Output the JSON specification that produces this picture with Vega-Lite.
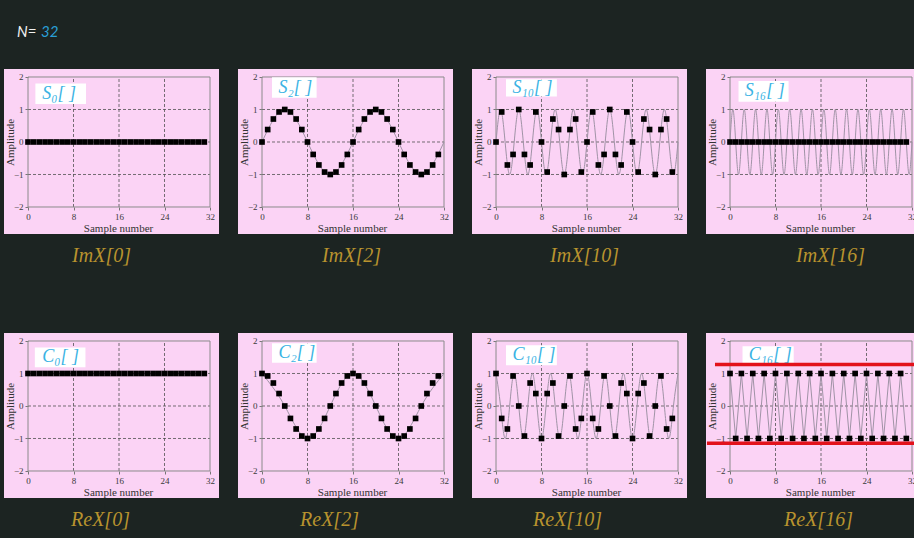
{
"$schema": "https://vega.github.io/schema/vega-lite/v6.json",
"background": "#1c2422",
"padding": {"left": 4, "top": 25, "right": 0, "bottom": 16},
"config": {
 "view": {"fill": "#fbd3f5", "stroke": null},
 "axis": {"domain": false, "grid": false, "ticks": true, "tickColor": "#777777", "tickSize": 3, "tickWidth": 1, "labelFont": "Liberation Serif", "labelFontSize": 9, "labelColor": "#3a3a3a", "labelPadding": 2, "labelOverlap": false, "labelFlush": false, "titleFont": "Liberation Serif", "titleFontSize": 11, "titleFontWeight": "normal", "titleColor": "#333333", "titlePadding": 1},
 "title": {"orient": "bottom", "font": "Liberation Serif", "fontStyle": "italic", "fontSize": 20, "fontWeight": "normal", "color": "#b8932e", "offset": 12, "frame": "group", "anchor": "middle"}
},
"datasets": {
 "vg": [{"x": 8}, {"x": 16}, {"x": 24}],
 "hg": [{"y": -1}, {"y": 0}, {"y": 1}],
 "samples": [
{"p":"S0","x":0,"y":0},{"p":"S0","x":1,"y":0},{"p":"S0","x":2,"y":0},{"p":"S0","x":3,"y":0},{"p":"S0","x":4,"y":0},{"p":"S0","x":5,"y":0},{"p":"S0","x":6,"y":0},{"p":"S0","x":7,"y":0},{"p":"S0","x":8,"y":0},{"p":"S0","x":9,"y":0},{"p":"S0","x":10,"y":0},{"p":"S0","x":11,"y":0},{"p":"S0","x":12,"y":0},{"p":"S0","x":13,"y":0},{"p":"S0","x":14,"y":0},{"p":"S0","x":15,"y":0},{"p":"S0","x":16,"y":0},{"p":"S0","x":17,"y":0},{"p":"S0","x":18,"y":0},{"p":"S0","x":19,"y":0},{"p":"S0","x":20,"y":0},{"p":"S0","x":21,"y":0},{"p":"S0","x":22,"y":0},{"p":"S0","x":23,"y":0},{"p":"S0","x":24,"y":0},{"p":"S0","x":25,"y":0},{"p":"S0","x":26,"y":0},{"p":"S0","x":27,"y":0},{"p":"S0","x":28,"y":0},{"p":"S0","x":29,"y":0},{"p":"S0","x":30,"y":0},{"p":"S0","x":31,"y":0},
{"p":"S2","x":0,"y":0},{"p":"S2","x":1,"y":0.383},{"p":"S2","x":2,"y":0.707},{"p":"S2","x":3,"y":0.924},{"p":"S2","x":4,"y":1},{"p":"S2","x":5,"y":0.924},{"p":"S2","x":6,"y":0.707},{"p":"S2","x":7,"y":0.383},{"p":"S2","x":8,"y":0},{"p":"S2","x":9,"y":-0.383},{"p":"S2","x":10,"y":-0.707},{"p":"S2","x":11,"y":-0.924},{"p":"S2","x":12,"y":-1},{"p":"S2","x":13,"y":-0.924},{"p":"S2","x":14,"y":-0.707},{"p":"S2","x":15,"y":-0.383},{"p":"S2","x":16,"y":0},{"p":"S2","x":17,"y":0.383},{"p":"S2","x":18,"y":0.707},{"p":"S2","x":19,"y":0.924},{"p":"S2","x":20,"y":1},{"p":"S2","x":21,"y":0.924},{"p":"S2","x":22,"y":0.707},{"p":"S2","x":23,"y":0.383},{"p":"S2","x":24,"y":0},{"p":"S2","x":25,"y":-0.383},{"p":"S2","x":26,"y":-0.707},{"p":"S2","x":27,"y":-0.924},{"p":"S2","x":28,"y":-1},{"p":"S2","x":29,"y":-0.924},{"p":"S2","x":30,"y":-0.707},{"p":"S2","x":31,"y":-0.383},
{"p":"S10","x":0,"y":0},{"p":"S10","x":1,"y":0.924},{"p":"S10","x":2,"y":-0.707},{"p":"S10","x":3,"y":-0.383},{"p":"S10","x":4,"y":1},{"p":"S10","x":5,"y":-0.383},{"p":"S10","x":6,"y":-0.707},{"p":"S10","x":7,"y":0.924},{"p":"S10","x":8,"y":0},{"p":"S10","x":9,"y":-0.924},{"p":"S10","x":10,"y":0.707},{"p":"S10","x":11,"y":0.383},{"p":"S10","x":12,"y":-1},{"p":"S10","x":13,"y":0.383},{"p":"S10","x":14,"y":0.707},{"p":"S10","x":15,"y":-0.924},{"p":"S10","x":16,"y":0},{"p":"S10","x":17,"y":0.924},{"p":"S10","x":18,"y":-0.707},{"p":"S10","x":19,"y":-0.383},{"p":"S10","x":20,"y":1},{"p":"S10","x":21,"y":-0.383},{"p":"S10","x":22,"y":-0.707},{"p":"S10","x":23,"y":0.924},{"p":"S10","x":24,"y":0},{"p":"S10","x":25,"y":-0.924},{"p":"S10","x":26,"y":0.707},{"p":"S10","x":27,"y":0.383},{"p":"S10","x":28,"y":-1},{"p":"S10","x":29,"y":0.383},{"p":"S10","x":30,"y":0.707},{"p":"S10","x":31,"y":-0.924},
{"p":"S16","x":0,"y":0},{"p":"S16","x":1,"y":0},{"p":"S16","x":2,"y":0},{"p":"S16","x":3,"y":0},{"p":"S16","x":4,"y":0},{"p":"S16","x":5,"y":0},{"p":"S16","x":6,"y":0},{"p":"S16","x":7,"y":0},{"p":"S16","x":8,"y":0},{"p":"S16","x":9,"y":0},{"p":"S16","x":10,"y":0},{"p":"S16","x":11,"y":0},{"p":"S16","x":12,"y":0},{"p":"S16","x":13,"y":0},{"p":"S16","x":14,"y":0},{"p":"S16","x":15,"y":0},{"p":"S16","x":16,"y":0},{"p":"S16","x":17,"y":0},{"p":"S16","x":18,"y":0},{"p":"S16","x":19,"y":0},{"p":"S16","x":20,"y":0},{"p":"S16","x":21,"y":0},{"p":"S16","x":22,"y":0},{"p":"S16","x":23,"y":0},{"p":"S16","x":24,"y":0},{"p":"S16","x":25,"y":0},{"p":"S16","x":26,"y":0},{"p":"S16","x":27,"y":0},{"p":"S16","x":28,"y":0},{"p":"S16","x":29,"y":0},{"p":"S16","x":30,"y":0},{"p":"S16","x":31,"y":0},
{"p":"C0","x":0,"y":1},{"p":"C0","x":1,"y":1},{"p":"C0","x":2,"y":1},{"p":"C0","x":3,"y":1},{"p":"C0","x":4,"y":1},{"p":"C0","x":5,"y":1},{"p":"C0","x":6,"y":1},{"p":"C0","x":7,"y":1},{"p":"C0","x":8,"y":1},{"p":"C0","x":9,"y":1},{"p":"C0","x":10,"y":1},{"p":"C0","x":11,"y":1},{"p":"C0","x":12,"y":1},{"p":"C0","x":13,"y":1},{"p":"C0","x":14,"y":1},{"p":"C0","x":15,"y":1},{"p":"C0","x":16,"y":1},{"p":"C0","x":17,"y":1},{"p":"C0","x":18,"y":1},{"p":"C0","x":19,"y":1},{"p":"C0","x":20,"y":1},{"p":"C0","x":21,"y":1},{"p":"C0","x":22,"y":1},{"p":"C0","x":23,"y":1},{"p":"C0","x":24,"y":1},{"p":"C0","x":25,"y":1},{"p":"C0","x":26,"y":1},{"p":"C0","x":27,"y":1},{"p":"C0","x":28,"y":1},{"p":"C0","x":29,"y":1},{"p":"C0","x":30,"y":1},{"p":"C0","x":31,"y":1},
{"p":"C2","x":0,"y":1},{"p":"C2","x":1,"y":0.924},{"p":"C2","x":2,"y":0.707},{"p":"C2","x":3,"y":0.383},{"p":"C2","x":4,"y":0},{"p":"C2","x":5,"y":-0.383},{"p":"C2","x":6,"y":-0.707},{"p":"C2","x":7,"y":-0.924},{"p":"C2","x":8,"y":-1},{"p":"C2","x":9,"y":-0.924},{"p":"C2","x":10,"y":-0.707},{"p":"C2","x":11,"y":-0.383},{"p":"C2","x":12,"y":0},{"p":"C2","x":13,"y":0.383},{"p":"C2","x":14,"y":0.707},{"p":"C2","x":15,"y":0.924},{"p":"C2","x":16,"y":1},{"p":"C2","x":17,"y":0.924},{"p":"C2","x":18,"y":0.707},{"p":"C2","x":19,"y":0.383},{"p":"C2","x":20,"y":0},{"p":"C2","x":21,"y":-0.383},{"p":"C2","x":22,"y":-0.707},{"p":"C2","x":23,"y":-0.924},{"p":"C2","x":24,"y":-1},{"p":"C2","x":25,"y":-0.924},{"p":"C2","x":26,"y":-0.707},{"p":"C2","x":27,"y":-0.383},{"p":"C2","x":28,"y":0},{"p":"C2","x":29,"y":0.383},{"p":"C2","x":30,"y":0.707},{"p":"C2","x":31,"y":0.924},
{"p":"C10","x":0,"y":1},{"p":"C10","x":1,"y":-0.383},{"p":"C10","x":2,"y":-0.707},{"p":"C10","x":3,"y":0.924},{"p":"C10","x":4,"y":0},{"p":"C10","x":5,"y":-0.924},{"p":"C10","x":6,"y":0.707},{"p":"C10","x":7,"y":0.383},{"p":"C10","x":8,"y":-1},{"p":"C10","x":9,"y":0.383},{"p":"C10","x":10,"y":0.707},{"p":"C10","x":11,"y":-0.924},{"p":"C10","x":12,"y":0},{"p":"C10","x":13,"y":0.924},{"p":"C10","x":14,"y":-0.707},{"p":"C10","x":15,"y":-0.383},{"p":"C10","x":16,"y":1},{"p":"C10","x":17,"y":-0.383},{"p":"C10","x":18,"y":-0.707},{"p":"C10","x":19,"y":0.924},{"p":"C10","x":20,"y":0},{"p":"C10","x":21,"y":-0.924},{"p":"C10","x":22,"y":0.707},{"p":"C10","x":23,"y":0.383},{"p":"C10","x":24,"y":-1},{"p":"C10","x":25,"y":0.383},{"p":"C10","x":26,"y":0.707},{"p":"C10","x":27,"y":-0.924},{"p":"C10","x":28,"y":0},{"p":"C10","x":29,"y":0.924},{"p":"C10","x":30,"y":-0.707},{"p":"C10","x":31,"y":-0.383},
{"p":"C16","x":0,"y":1},{"p":"C16","x":1,"y":-1},{"p":"C16","x":2,"y":1},{"p":"C16","x":3,"y":-1},{"p":"C16","x":4,"y":1},{"p":"C16","x":5,"y":-1},{"p":"C16","x":6,"y":1},{"p":"C16","x":7,"y":-1},{"p":"C16","x":8,"y":1},{"p":"C16","x":9,"y":-1},{"p":"C16","x":10,"y":1},{"p":"C16","x":11,"y":-1},{"p":"C16","x":12,"y":1},{"p":"C16","x":13,"y":-1},{"p":"C16","x":14,"y":1},{"p":"C16","x":15,"y":-1},{"p":"C16","x":16,"y":1},{"p":"C16","x":17,"y":-1},{"p":"C16","x":18,"y":1},{"p":"C16","x":19,"y":-1},{"p":"C16","x":20,"y":1},{"p":"C16","x":21,"y":-1},{"p":"C16","x":22,"y":1},{"p":"C16","x":23,"y":-1},{"p":"C16","x":24,"y":1},{"p":"C16","x":25,"y":-1},{"p":"C16","x":26,"y":1},{"p":"C16","x":27,"y":-1},{"p":"C16","x":28,"y":1},{"p":"C16","x":29,"y":-1},{"p":"C16","x":30,"y":1},{"p":"C16","x":31,"y":-1}
 ],
 "curves": [
{"p":"S2","x":0,"y":0},{"p":"S2","x":4,"y":1},{"p":"S2","x":8,"y":0},{"p":"S2","x":12,"y":-1},{"p":"S2","x":16,"y":0},{"p":"S2","x":20,"y":1},{"p":"S2","x":24,"y":0},{"p":"S2","x":28,"y":-1},{"p":"S2","x":32,"y":0},
{"p":"C2","x":0,"y":1},{"p":"C2","x":4,"y":0},{"p":"C2","x":8,"y":-1},{"p":"C2","x":12,"y":0},{"p":"C2","x":16,"y":1},{"p":"C2","x":20,"y":0},{"p":"C2","x":24,"y":-1},{"p":"C2","x":28,"y":0},{"p":"C2","x":32,"y":1},
{"p":"S10","x":0,"y":0},{"p":"S10","x":0.8,"y":1},{"p":"S10","x":1.6,"y":0},{"p":"S10","x":2.4,"y":-1},{"p":"S10","x":3.2,"y":0},{"p":"S10","x":4,"y":1},{"p":"S10","x":4.8,"y":0},{"p":"S10","x":5.6,"y":-1},{"p":"S10","x":6.4,"y":0},{"p":"S10","x":7.2,"y":1},{"p":"S10","x":8,"y":0},{"p":"S10","x":8.8,"y":-1},{"p":"S10","x":9.6,"y":0},{"p":"S10","x":10.4,"y":1},{"p":"S10","x":11.2,"y":0},{"p":"S10","x":12,"y":-1},{"p":"S10","x":12.8,"y":0},{"p":"S10","x":13.6,"y":1},{"p":"S10","x":14.4,"y":0},{"p":"S10","x":15.2,"y":-1},{"p":"S10","x":16,"y":0},{"p":"S10","x":16.8,"y":1},{"p":"S10","x":17.6,"y":0},{"p":"S10","x":18.4,"y":-1},{"p":"S10","x":19.2,"y":0},{"p":"S10","x":20,"y":1},{"p":"S10","x":20.8,"y":0},{"p":"S10","x":21.6,"y":-1},{"p":"S10","x":22.4,"y":0},{"p":"S10","x":23.2,"y":1},{"p":"S10","x":24,"y":0},{"p":"S10","x":24.8,"y":-1},{"p":"S10","x":25.6,"y":0},{"p":"S10","x":26.4,"y":1},{"p":"S10","x":27.2,"y":0},{"p":"S10","x":28,"y":-1},{"p":"S10","x":28.8,"y":0},{"p":"S10","x":29.6,"y":1},{"p":"S10","x":30.4,"y":0},{"p":"S10","x":31.2,"y":-1},{"p":"S10","x":32,"y":0},
{"p":"C10","x":0,"y":1},{"p":"C10","x":0.8,"y":0},{"p":"C10","x":1.6,"y":-1},{"p":"C10","x":2.4,"y":0},{"p":"C10","x":3.2,"y":1},{"p":"C10","x":4,"y":0},{"p":"C10","x":4.8,"y":-1},{"p":"C10","x":5.6,"y":0},{"p":"C10","x":6.4,"y":1},{"p":"C10","x":7.2,"y":0},{"p":"C10","x":8,"y":-1},{"p":"C10","x":8.8,"y":0},{"p":"C10","x":9.6,"y":1},{"p":"C10","x":10.4,"y":0},{"p":"C10","x":11.2,"y":-1},{"p":"C10","x":12,"y":0},{"p":"C10","x":12.8,"y":1},{"p":"C10","x":13.6,"y":0},{"p":"C10","x":14.4,"y":-1},{"p":"C10","x":15.2,"y":0},{"p":"C10","x":16,"y":1},{"p":"C10","x":16.8,"y":0},{"p":"C10","x":17.6,"y":-1},{"p":"C10","x":18.4,"y":0},{"p":"C10","x":19.2,"y":1},{"p":"C10","x":20,"y":0},{"p":"C10","x":20.8,"y":-1},{"p":"C10","x":21.6,"y":0},{"p":"C10","x":22.4,"y":1},{"p":"C10","x":23.2,"y":0},{"p":"C10","x":24,"y":-1},{"p":"C10","x":24.8,"y":0},{"p":"C10","x":25.6,"y":1},{"p":"C10","x":26.4,"y":0},{"p":"C10","x":27.2,"y":-1},{"p":"C10","x":28,"y":0},{"p":"C10","x":28.8,"y":1},{"p":"C10","x":29.6,"y":0},{"p":"C10","x":30.4,"y":-1},{"p":"C10","x":31.2,"y":0},{"p":"C10","x":32,"y":1},
{"p":"S16","x":0,"y":0},{"p":"S16","x":0.5,"y":1},{"p":"S16","x":1,"y":0},{"p":"S16","x":1.5,"y":-1},{"p":"S16","x":2,"y":0},{"p":"S16","x":2.5,"y":1},{"p":"S16","x":3,"y":0},{"p":"S16","x":3.5,"y":-1},{"p":"S16","x":4,"y":0},{"p":"S16","x":4.5,"y":1},{"p":"S16","x":5,"y":0},{"p":"S16","x":5.5,"y":-1},{"p":"S16","x":6,"y":0},{"p":"S16","x":6.5,"y":1},{"p":"S16","x":7,"y":0},{"p":"S16","x":7.5,"y":-1},{"p":"S16","x":8,"y":0},{"p":"S16","x":8.5,"y":1},{"p":"S16","x":9,"y":0},{"p":"S16","x":9.5,"y":-1},{"p":"S16","x":10,"y":0},{"p":"S16","x":10.5,"y":1},{"p":"S16","x":11,"y":0},{"p":"S16","x":11.5,"y":-1},{"p":"S16","x":12,"y":0},{"p":"S16","x":12.5,"y":1},{"p":"S16","x":13,"y":0},{"p":"S16","x":13.5,"y":-1},{"p":"S16","x":14,"y":0},{"p":"S16","x":14.5,"y":1},{"p":"S16","x":15,"y":0},{"p":"S16","x":15.5,"y":-1},{"p":"S16","x":16,"y":0},{"p":"S16","x":16.5,"y":1},{"p":"S16","x":17,"y":0},{"p":"S16","x":17.5,"y":-1},{"p":"S16","x":18,"y":0},{"p":"S16","x":18.5,"y":1},{"p":"S16","x":19,"y":0},{"p":"S16","x":19.5,"y":-1},{"p":"S16","x":20,"y":0},{"p":"S16","x":20.5,"y":1},{"p":"S16","x":21,"y":0},{"p":"S16","x":21.5,"y":-1},{"p":"S16","x":22,"y":0},{"p":"S16","x":22.5,"y":1},{"p":"S16","x":23,"y":0},{"p":"S16","x":23.5,"y":-1},{"p":"S16","x":24,"y":0},{"p":"S16","x":24.5,"y":1},{"p":"S16","x":25,"y":0},{"p":"S16","x":25.5,"y":-1},{"p":"S16","x":26,"y":0},{"p":"S16","x":26.5,"y":1},{"p":"S16","x":27,"y":0},{"p":"S16","x":27.5,"y":-1},{"p":"S16","x":28,"y":0},{"p":"S16","x":28.5,"y":1},{"p":"S16","x":29,"y":0},{"p":"S16","x":29.5,"y":-1},{"p":"S16","x":30,"y":0},{"p":"S16","x":30.5,"y":1},{"p":"S16","x":31,"y":0},{"p":"S16","x":31.5,"y":-1},{"p":"S16","x":32,"y":0}
 ]
},
"columns": 4,
"spacing": {"row": 99, "column": 19},
"bounds": "flush",
"concat": [
 {"width": 215, "height": 165, "title": {"text": "ImX[0]", "dx": -10},
  "layer": [
   {"data":{"name":"vg"},"mark":{"type":"rule","color":"#505050","strokeDash":[3,2],"strokeWidth":0.8},"encoding":{"x":{"field":"x","type":"quantitative"},"y":{"datum":-2},"y2":{"datum":2}}},
   {"data":{"name":"hg"},"mark":{"type":"rule","color":"#505050","strokeDash":[3,2],"strokeWidth":0.8},"encoding":{"y":{"field":"y","type":"quantitative"},"x":{"datum":0},"x2":{"datum":32}}},
   {"data":{"values":[{}]},"mark":{"type":"rect","filled":false,"color":"#8a8a8a","strokeWidth":1},"encoding":{"x":{"datum":0},"x2":{"datum":32},"y":{"datum":-2},"y2":{"datum":2}}},
   {"data":{"name":"samples"},"transform":[{"filter":"datum.p==='S0'"}],"mark":{"type":"square","color":"#000000","size":32,"opacity":1},"encoding":{"x":{"field":"x","type":"quantitative","scale":{"domain":[-4.22,33.58],"nice":false,"zero":false},"axis":{"values":[0,8,16,24,32],"offset":-27,"title":"Sample number","titleX":114}},"y":{"field":"y","type":"quantitative","scale":{"domain":[-2.831,2.246],"nice":false,"zero":false},"axis":{"values":[-2,-1,0,1,2],"offset":-24,"title":"Amplitude","titleX":-13,"titleY":73}}}},
   {"data":{"values":[{}]},"mark":{"type":"rect","color":"#ffffff"},"encoding":{"x":{"datum":1.3},"x2":{"datum":10.2},"y":{"datum":1.8},"y2":{"datum":1.17}}},
   {"data":{"values":[{"t":"S₀[ ]"}]},"mark":{"type":"text","align":"left","baseline":"middle","font":"Liberation Serif","fontStyle":"italic","fontSize":18,"color":"#3ab3e4"},"encoding":{"text":{"field":"t"},"x":{"datum":2.5},"y":{"datum":1.47}}},
   {"data":{"values":[{"t":"N="}]},"mark":{"type":"text","align":"left","baseline":"middle","font":"Lato","fontStyle":"italic","fontSize":15,"color":"#f2f2f2"},"encoding":{"text":{"field":"t"},"x":{"datum":-1.93},"y":{"datum":3.38}}},
   {"data":{"values":[{"t":"32"}]},"mark":{"type":"text","align":"left","baseline":"middle","font":"Lato","fontStyle":"italic","fontSize":15,"color":"#2a9fd6"},"encoding":{"text":{"field":"t"},"x":{"datum":2.29},"y":{"datum":3.38}}}
  ]},
 {"width": 215, "height": 165, "title": {"text": "ImX[2]", "dx": 6},
  "layer": [
   {"data":{"name":"vg"},"mark":{"type":"rule","color":"#505050","strokeDash":[3,2],"strokeWidth":0.8},"encoding":{"x":{"field":"x","type":"quantitative"},"y":{"datum":-2},"y2":{"datum":2}}},
   {"data":{"name":"hg"},"mark":{"type":"rule","color":"#505050","strokeDash":[3,2],"strokeWidth":0.8},"encoding":{"y":{"field":"y","type":"quantitative"},"x":{"datum":0},"x2":{"datum":32}}},
   {"data":{"values":[{}]},"mark":{"type":"rect","filled":false,"color":"#8a8a8a","strokeWidth":1},"encoding":{"x":{"datum":0},"x2":{"datum":32},"y":{"datum":-2},"y2":{"datum":2}}},
   {"data":{"name":"curves"},"transform":[{"filter":"datum.p==='S2'"}],"mark":{"type":"line","interpolate":"natural","color":"#a093a6","strokeWidth":1},"encoding":{"x":{"field":"x","type":"quantitative"},"y":{"field":"y","type":"quantitative"}}},
   {"data":{"name":"samples"},"transform":[{"filter":"datum.p==='S2'"}],"mark":{"type":"square","color":"#000000","size":32,"opacity":1},"encoding":{"x":{"field":"x","type":"quantitative","scale":{"domain":[-4.22,33.58],"nice":false,"zero":false},"axis":{"values":[0,8,16,24,32],"offset":-27,"title":"Sample number","titleX":114}},"y":{"field":"y","type":"quantitative","scale":{"domain":[-2.831,2.246],"nice":false,"zero":false},"axis":{"values":[-2,-1,0,1,2],"offset":-24,"title":"Amplitude","titleX":-13,"titleY":73}}}},
   {"data":{"values":[{}]},"mark":{"type":"rect","color":"#ffffff"},"encoding":{"x":{"datum":1.76},"x2":{"datum":9.6},"y":{"datum":1.99},"y2":{"datum":1.36}}},
   {"data":{"values":[{"t":"S₂[ ]"}]},"mark":{"type":"text","align":"left","baseline":"middle","font":"Liberation Serif","fontStyle":"italic","fontSize":18,"color":"#3ab3e4"},"encoding":{"text":{"field":"t"},"x":{"datum":2.9},"y":{"datum":1.66}}}
  ]},
 {"width": 215, "height": 165, "title": {"text": "ImX[10]", "dx": 5},
  "layer": [
   {"data":{"name":"vg"},"mark":{"type":"rule","color":"#505050","strokeDash":[3,2],"strokeWidth":0.8},"encoding":{"x":{"field":"x","type":"quantitative"},"y":{"datum":-2},"y2":{"datum":2}}},
   {"data":{"name":"hg"},"mark":{"type":"rule","color":"#505050","strokeDash":[3,2],"strokeWidth":0.8},"encoding":{"y":{"field":"y","type":"quantitative"},"x":{"datum":0},"x2":{"datum":32}}},
   {"data":{"values":[{}]},"mark":{"type":"rect","filled":false,"color":"#8a8a8a","strokeWidth":1},"encoding":{"x":{"datum":0},"x2":{"datum":32},"y":{"datum":-2},"y2":{"datum":2}}},
   {"data":{"name":"curves"},"transform":[{"filter":"datum.p==='S10'"}],"mark":{"type":"line","interpolate":"natural","color":"#a093a6","strokeWidth":1},"encoding":{"x":{"field":"x","type":"quantitative"},"y":{"field":"y","type":"quantitative"}}},
   {"data":{"name":"samples"},"transform":[{"filter":"datum.p==='S10'"}],"mark":{"type":"square","color":"#000000","size":32,"opacity":1},"encoding":{"x":{"field":"x","type":"quantitative","scale":{"domain":[-4.22,33.58],"nice":false,"zero":false},"axis":{"values":[0,8,16,24,32],"offset":-27,"title":"Sample number","titleX":114}},"y":{"field":"y","type":"quantitative","scale":{"domain":[-2.831,2.246],"nice":false,"zero":false},"axis":{"values":[-2,-1,0,1,2],"offset":-24,"title":"Amplitude","titleX":-13,"titleY":73}}}},
   {"data":{"values":[{}]},"mark":{"type":"rect","color":"#ffffff"},"encoding":{"x":{"datum":1.76},"x2":{"datum":10.7},"y":{"datum":1.93},"y2":{"datum":1.4}}},
   {"data":{"values":[{"t":"S₁₀[ ]"}]},"mark":{"type":"text","align":"left","baseline":"middle","font":"Liberation Serif","fontStyle":"italic","fontSize":18,"color":"#3ab3e4"},"encoding":{"text":{"field":"t"},"x":{"datum":2.9},"y":{"datum":1.66}}}
  ]},
 {"width": 215, "height": 165, "title": {"text": "ImX[16]", "dx": 17},
  "layer": [
   {"data":{"name":"vg"},"mark":{"type":"rule","color":"#505050","strokeDash":[3,2],"strokeWidth":0.8},"encoding":{"x":{"field":"x","type":"quantitative"},"y":{"datum":-2},"y2":{"datum":2}}},
   {"data":{"name":"hg"},"mark":{"type":"rule","color":"#505050","strokeDash":[3,2],"strokeWidth":0.8},"encoding":{"y":{"field":"y","type":"quantitative"},"x":{"datum":0},"x2":{"datum":32}}},
   {"data":{"values":[{}]},"mark":{"type":"rect","filled":false,"color":"#8a8a8a","strokeWidth":1},"encoding":{"x":{"datum":0},"x2":{"datum":32},"y":{"datum":-2},"y2":{"datum":2}}},
   {"data":{"name":"curves"},"transform":[{"filter":"datum.p==='S16'"}],"mark":{"type":"line","interpolate":"natural","color":"#a093a6","strokeWidth":1},"encoding":{"x":{"field":"x","type":"quantitative"},"y":{"field":"y","type":"quantitative"}}},
   {"data":{"name":"samples"},"transform":[{"filter":"datum.p==='S16'"}],"mark":{"type":"square","color":"#000000","size":32,"opacity":1},"encoding":{"x":{"field":"x","type":"quantitative","scale":{"domain":[-4.22,33.58],"nice":false,"zero":false},"axis":{"values":[0,8,16,24,32],"offset":-27,"title":"Sample number","titleX":114}},"y":{"field":"y","type":"quantitative","scale":{"domain":[-2.831,2.246],"nice":false,"zero":false},"axis":{"values":[-2,-1,0,1,2],"offset":-24,"title":"Amplitude","titleX":-13,"titleY":73}}}},
   {"data":{"values":[{}]},"mark":{"type":"rect","color":"#ffffff"},"encoding":{"x":{"datum":1.5},"x2":{"datum":10.3},"y":{"datum":1.88},"y2":{"datum":1.24}}},
   {"data":{"values":[{"t":"S₁₆[ ]"}]},"mark":{"type":"text","align":"left","baseline":"middle","font":"Liberation Serif","fontStyle":"italic","fontSize":18,"color":"#3ab3e4"},"encoding":{"text":{"field":"t"},"x":{"datum":2.6},"y":{"datum":1.56}}}
  ]},
 {"width": 215, "height": 165, "title": {"text": "ReX[0]", "dx": -11},
  "layer": [
   {"data":{"name":"vg"},"mark":{"type":"rule","color":"#505050","strokeDash":[3,2],"strokeWidth":0.8},"encoding":{"x":{"field":"x","type":"quantitative"},"y":{"datum":-2},"y2":{"datum":2}}},
   {"data":{"name":"hg"},"mark":{"type":"rule","color":"#505050","strokeDash":[3,2],"strokeWidth":0.8},"encoding":{"y":{"field":"y","type":"quantitative"},"x":{"datum":0},"x2":{"datum":32}}},
   {"data":{"values":[{}]},"mark":{"type":"rect","filled":false,"color":"#8a8a8a","strokeWidth":1},"encoding":{"x":{"datum":0},"x2":{"datum":32},"y":{"datum":-2},"y2":{"datum":2}}},
   {"data":{"name":"samples"},"transform":[{"filter":"datum.p==='C0'"}],"mark":{"type":"square","color":"#000000","size":32,"opacity":1},"encoding":{"x":{"field":"x","type":"quantitative","scale":{"domain":[-4.22,33.58],"nice":false,"zero":false},"axis":{"values":[0,8,16,24,32],"offset":-27,"title":"Sample number","titleX":114}},"y":{"field":"y","type":"quantitative","scale":{"domain":[-2.831,2.246],"nice":false,"zero":false},"axis":{"values":[-2,-1,0,1,2],"offset":-24,"title":"Amplitude","titleX":-13,"titleY":73}}}},
   {"data":{"values":[{}]},"mark":{"type":"rect","color":"#ffffff"},"encoding":{"x":{"datum":1.2},"x2":{"datum":10.1},"y":{"datum":1.8},"y2":{"datum":1.19}}},
   {"data":{"values":[{"t":"C₀[ ]"}]},"mark":{"type":"text","align":"left","baseline":"middle","font":"Liberation Serif","fontStyle":"italic","fontSize":18,"color":"#3ab3e4"},"encoding":{"text":{"field":"t"},"x":{"datum":2.5},"y":{"datum":1.5}}}
  ]},
 {"width": 215, "height": 165, "title": {"text": "ReX[2]", "dx": -16},
  "layer": [
   {"data":{"name":"vg"},"mark":{"type":"rule","color":"#505050","strokeDash":[3,2],"strokeWidth":0.8},"encoding":{"x":{"field":"x","type":"quantitative"},"y":{"datum":-2},"y2":{"datum":2}}},
   {"data":{"name":"hg"},"mark":{"type":"rule","color":"#505050","strokeDash":[3,2],"strokeWidth":0.8},"encoding":{"y":{"field":"y","type":"quantitative"},"x":{"datum":0},"x2":{"datum":32}}},
   {"data":{"values":[{}]},"mark":{"type":"rect","filled":false,"color":"#8a8a8a","strokeWidth":1},"encoding":{"x":{"datum":0},"x2":{"datum":32},"y":{"datum":-2},"y2":{"datum":2}}},
   {"data":{"name":"curves"},"transform":[{"filter":"datum.p==='C2'"}],"mark":{"type":"line","interpolate":"natural","color":"#a093a6","strokeWidth":1},"encoding":{"x":{"field":"x","type":"quantitative"},"y":{"field":"y","type":"quantitative"}}},
   {"data":{"name":"samples"},"transform":[{"filter":"datum.p==='C2'"}],"mark":{"type":"square","color":"#000000","size":32,"opacity":1},"encoding":{"x":{"field":"x","type":"quantitative","scale":{"domain":[-4.22,33.58],"nice":false,"zero":false},"axis":{"values":[0,8,16,24,32],"offset":-27,"title":"Sample number","titleX":114}},"y":{"field":"y","type":"quantitative","scale":{"domain":[-2.831,2.246],"nice":false,"zero":false},"axis":{"values":[-2,-1,0,1,2],"offset":-24,"title":"Amplitude","titleX":-13,"titleY":73}}}},
   {"data":{"values":[{}]},"mark":{"type":"rect","color":"#ffffff"},"encoding":{"x":{"datum":1.76},"x2":{"datum":9.6},"y":{"datum":1.93},"y2":{"datum":1.33}}},
   {"data":{"values":[{"t":"C₂[ ]"}]},"mark":{"type":"text","align":"left","baseline":"middle","font":"Liberation Serif","fontStyle":"italic","fontSize":18,"color":"#3ab3e4"},"encoding":{"text":{"field":"t"},"x":{"datum":2.9},"y":{"datum":1.62}}}
  ]},
 {"width": 215, "height": 165, "title": {"text": "ReX[10]", "dx": -12},
  "layer": [
   {"data":{"name":"vg"},"mark":{"type":"rule","color":"#505050","strokeDash":[3,2],"strokeWidth":0.8},"encoding":{"x":{"field":"x","type":"quantitative"},"y":{"datum":-2},"y2":{"datum":2}}},
   {"data":{"name":"hg"},"mark":{"type":"rule","color":"#505050","strokeDash":[3,2],"strokeWidth":0.8},"encoding":{"y":{"field":"y","type":"quantitative"},"x":{"datum":0},"x2":{"datum":32}}},
   {"data":{"values":[{}]},"mark":{"type":"rect","filled":false,"color":"#8a8a8a","strokeWidth":1},"encoding":{"x":{"datum":0},"x2":{"datum":32},"y":{"datum":-2},"y2":{"datum":2}}},
   {"data":{"name":"curves"},"transform":[{"filter":"datum.p==='C10'"}],"mark":{"type":"line","interpolate":"natural","color":"#a093a6","strokeWidth":1},"encoding":{"x":{"field":"x","type":"quantitative"},"y":{"field":"y","type":"quantitative"}}},
   {"data":{"name":"samples"},"transform":[{"filter":"datum.p==='C10'"}],"mark":{"type":"square","color":"#000000","size":32,"opacity":1},"encoding":{"x":{"field":"x","type":"quantitative","scale":{"domain":[-4.22,33.58],"nice":false,"zero":false},"axis":{"values":[0,8,16,24,32],"offset":-27,"title":"Sample number","titleX":114}},"y":{"field":"y","type":"quantitative","scale":{"domain":[-2.831,2.246],"nice":false,"zero":false},"axis":{"values":[-2,-1,0,1,2],"offset":-24,"title":"Amplitude","titleX":-13,"titleY":73}}}},
   {"data":{"values":[{}]},"mark":{"type":"rect","color":"#ffffff"},"encoding":{"x":{"datum":1.76},"x2":{"datum":10.7},"y":{"datum":1.87},"y2":{"datum":1.25}}},
   {"data":{"values":[{"t":"C₁₀[ ]"}]},"mark":{"type":"text","align":"left","baseline":"middle","font":"Liberation Serif","fontStyle":"italic","fontSize":18,"color":"#3ab3e4"},"encoding":{"text":{"field":"t"},"x":{"datum":2.9},"y":{"datum":1.56}}}
  ]},
 {"width": 215, "height": 165, "title": {"text": "ReX[16]", "dx": 5},
  "layer": [
   {"data":{"name":"vg"},"mark":{"type":"rule","color":"#505050","strokeDash":[3,2],"strokeWidth":0.8},"encoding":{"x":{"field":"x","type":"quantitative"},"y":{"datum":-2},"y2":{"datum":2}}},
   {"data":{"name":"hg"},"mark":{"type":"rule","color":"#505050","strokeDash":[3,2],"strokeWidth":0.8},"encoding":{"y":{"field":"y","type":"quantitative"},"x":{"datum":0},"x2":{"datum":32}}},
   {"data":{"values":[{}]},"mark":{"type":"rect","filled":false,"color":"#8a8a8a","strokeWidth":1},"encoding":{"x":{"datum":0},"x2":{"datum":32},"y":{"datum":-2},"y2":{"datum":2}}},
   {"data":{"name":"samples"},"transform":[{"filter":"datum.p==='C16'"}],"mark":{"type":"line","interpolate":"linear","color":"#a093a6","strokeWidth":1},"encoding":{"x":{"field":"x","type":"quantitative"},"y":{"field":"y","type":"quantitative"}}},
   {"data":{"name":"samples"},"transform":[{"filter":"datum.p==='C16'"}],"mark":{"type":"square","color":"#000000","size":32,"opacity":1},"encoding":{"x":{"field":"x","type":"quantitative","scale":{"domain":[-4.22,33.58],"nice":false,"zero":false},"axis":{"values":[0,8,16,24,32],"offset":-27,"title":"Sample number","titleX":114}},"y":{"field":"y","type":"quantitative","scale":{"domain":[-2.831,2.246],"nice":false,"zero":false},"axis":{"values":[-2,-1,0,1,2],"offset":-24,"title":"Amplitude","titleX":-13,"titleY":73}}}},
   {"data":{"values":[{}]},"mark":{"type":"rect","color":"#ffffff"},"encoding":{"x":{"datum":2.2},"x2":{"datum":11.2},"y":{"datum":1.84},"y2":{"datum":1.28}}},
   {"data":{"values":[{"t":"C₁₆[ ]"}]},"mark":{"type":"text","align":"left","baseline":"middle","font":"Liberation Serif","fontStyle":"italic","fontSize":18,"color":"#3ab3e4"},"encoding":{"text":{"field":"t"},"x":{"datum":3.3},"y":{"datum":1.56}}},
   {"data":{"values":[{"y":1.28,"a":-2.64},{"y":-1.15,"a":-4.05}]},"mark":{"type":"rule","color":"#e3121b","strokeWidth":3.5},"encoding":{"y":{"field":"y","type":"quantitative"},"x":{"field":"a","type":"quantitative"},"x2":{"datum":33.58}}}
  ]}
]
}
